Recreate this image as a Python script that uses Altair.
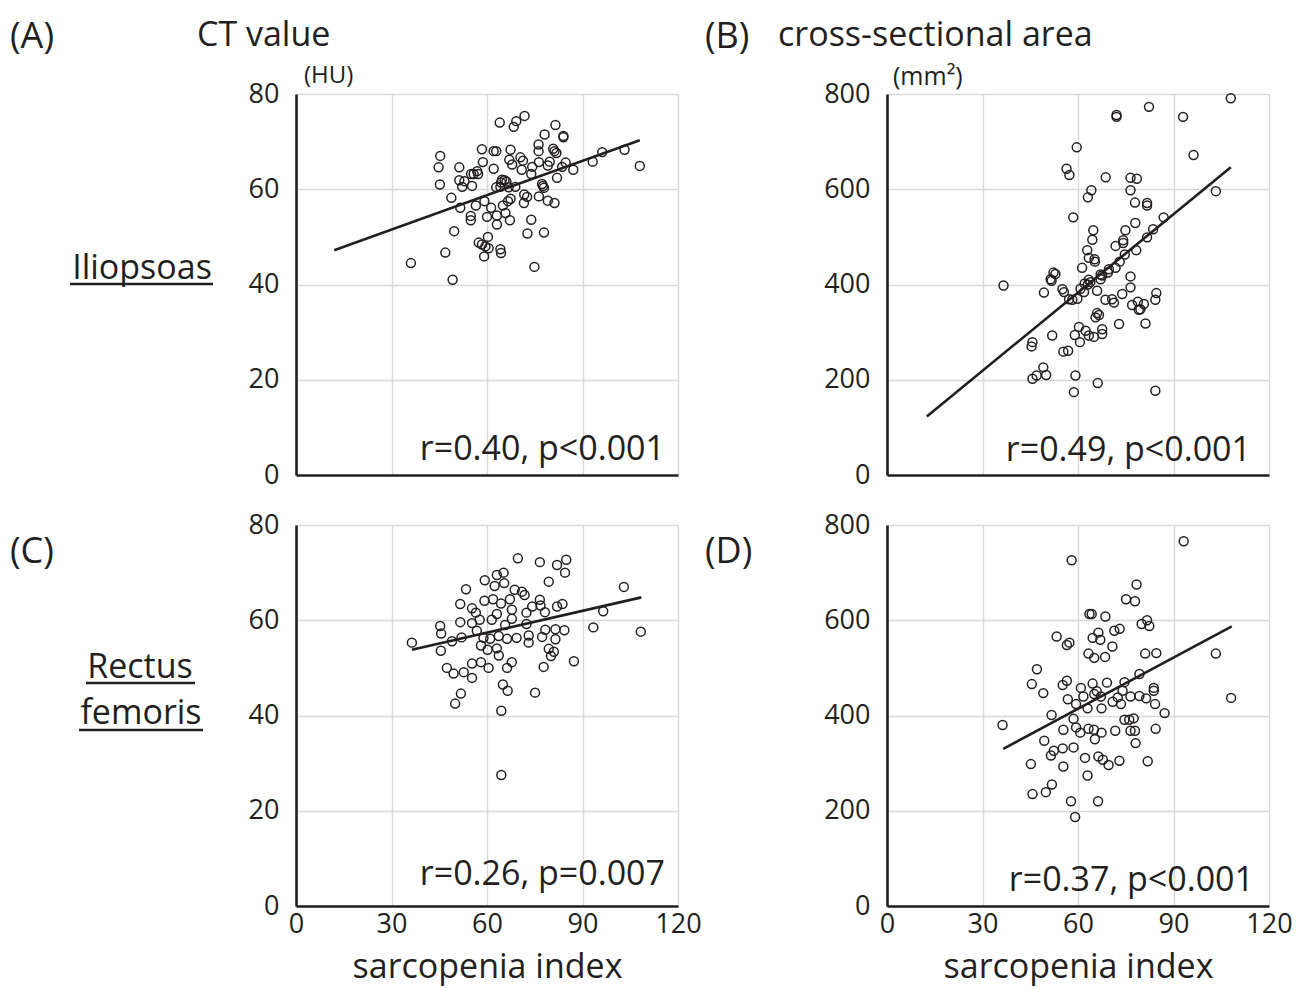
import altair as alt
import pandas as pd

FONT = "Open Sans"
INK = "#231f20"

# ---------------- data ----------------
# (A) Iliopsoas CT value (HU)
a_x = [64.0, 69.2, 68.4, 71.8, 81.5, 78.1, 84.0, 84.0, 45.3, 44.8, 45.2, 51.3, 58.4, 62.1, 62.9, 67.4,
       76.2, 76.2, 80.8, 81.2, 81.8, 70.5, 71.3, 67.0, 58.7, 67.9, 76.3, 79.7, 79.1, 84.7, 83.6, 87.1,
       93.2, 96.2, 103.2, 108.0, 74.2, 73.9, 70.9, 62.1, 56.9, 55.8, 57.2, 55.0, 51.3, 52.9, 52.2, 55.3,
       64.7, 65.5, 66.1, 64.4, 62.9, 64.2, 66.8, 68.9, 77.3, 77.9, 77.6, 82.0, 48.8, 51.6, 56.5, 59.2,
       61.3, 65.0, 66.6, 67.4, 65.8, 63.1, 54.9, 54.9, 60.0, 67.2, 71.7, 72.6, 71.6, 76.3, 79.1, 81.2,
       73.9, 63.1, 49.7, 72.7, 77.9, 60.3, 57.4, 58.4, 59.5, 60.5, 64.2, 64.4, 59.1, 46.9, 36.1, 74.9, 49.2]
a_y = [74.0, 74.3, 73.1, 75.4, 73.5, 71.5, 71.2, 70.9, 67.0, 64.6, 61.0, 64.6, 68.4, 68.0, 68.0, 68.3,
       69.4, 68.0, 68.5, 68.0, 67.6, 66.7, 66.0, 66.2, 65.7, 65.2, 65.7, 65.8, 65.0, 65.6, 64.7, 64.1,
       65.8, 67.8, 68.3, 64.9, 64.7, 63.2, 64.1, 64.3, 63.8, 63.2, 63.2, 63.2, 61.9, 61.7, 60.5, 60.7,
       62.0, 61.9, 61.6, 61.4, 60.4, 60.5, 60.4, 60.5, 61.1, 60.3, 60.7, 62.4, 58.2, 56.1, 56.6, 57.5,
       56.1, 56.6, 57.5, 58.0, 55.0, 54.5, 54.4, 53.5, 54.2, 53.5, 58.9, 58.4, 57.1, 58.5, 57.6, 57.1,
       53.6, 52.6, 51.2, 50.7, 50.9, 50.0, 48.8, 48.4, 48.0, 47.6, 47.4, 46.6, 45.9, 46.7, 44.5, 43.7, 41.0]
a_line_x = [12.0, 108.0]
a_line_y = [47.2, 70.3]

# (B) Iliopsoas cross-sectional area (mm2)
b_x = [108.0, 82.3, 72.1, 72.1, 93.0, 59.6, 96.3, 56.4, 57.3, 68.7, 76.5, 78.5, 64.2, 63.1, 76.5, 103.3,
       77.9, 81.7, 81.7, 58.5, 86.9, 78.0, 74.9, 83.6, 64.8, 64.5, 74.2, 74.2, 81.7, 71.8, 62.9, 78.3,
       63.4, 65.2, 65.3, 74.7, 61.3, 73.1, 71.8, 69.7, 69.4, 67.1, 67.6, 67.1, 63.4, 63.9, 62.1, 76.5,
       52.3, 52.9, 51.4, 51.7, 36.6, 49.3, 55.1, 55.6, 57.2, 58.2, 59.8, 60.8, 61.9, 63.1, 66.0, 68.6,
       70.7, 71.3, 73.9, 76.5, 77.0, 78.8, 79.6, 80.7, 79.1, 84.6, 84.3, 66.0, 66.6, 65.5, 72.9, 81.2,
       60.3, 62.4, 63.4, 65.0, 67.6, 67.6, 59.0, 60.6, 51.9, 45.7, 45.4, 55.4, 56.9, 49.1, 47.0, 45.7,
       50.0, 59.2, 66.2, 58.7, 84.3]
b_y = [791, 773, 756, 752, 752, 688, 672, 643, 630, 625, 624, 622, 598, 583, 598, 596,
       572, 571, 566, 541, 541, 529, 514, 516, 514, 494, 493, 487, 499, 481, 472, 472,
       456, 453, 448, 463, 435, 448, 435, 432, 425, 421, 419, 411, 410, 405, 402, 417,
       425, 422, 411, 408, 398, 383, 390, 384, 369, 368, 370, 391, 384, 400, 387, 368,
       369, 362, 380, 394, 357, 364, 348, 359, 347, 382, 368, 340, 336, 331, 317, 318,
       311, 303, 293, 290, 306, 296, 294, 279, 293, 279, 270, 259, 261, 226, 209, 202,
       210, 209, 193, 174, 177]
b_line_x = [12.5, 108.0]
b_line_y = [123, 646]

# (C) Rectus femoris CT value (HU)
c_x = [69.7, 76.6, 82.0, 84.9, 84.5, 65.2, 63.1, 65.4, 62.4, 59.3, 79.4, 53.4, 68.7, 71.0, 71.8, 59.2,
       61.9, 64.4, 67.2, 51.6, 55.3, 56.5, 57.7, 74.2, 76.6, 76.8, 78.2, 82.0, 83.7, 67.8, 67.8, 63.1,
       61.5, 65.7, 72.4, 72.4, 103.0, 96.5, 45.3, 45.6, 51.6, 55.3, 56.8, 36.4, 49.0, 52.0, 45.5, 58.9,
       61.0, 63.7, 66.3, 69.3, 73.1, 73.1, 58.1, 60.2, 63.1, 63.7, 77.3, 81.5, 81.5, 84.3, 78.3, 79.4,
       81.0, 80.1, 93.4, 108.3, 87.3, 77.8, 67.8, 66.3, 60.5, 58.1, 55.3, 47.4, 49.5, 52.7, 55.3, 65.0,
       66.5, 75.1, 51.8, 50.0, 64.5, 64.5]
c_y = [73.0, 72.2, 71.6, 72.7, 70.0, 70.0, 69.5, 67.8, 67.2, 68.4, 68.1, 66.5, 66.4, 66.0, 65.3, 64.1,
       64.4, 63.5, 64.4, 63.4, 62.5, 61.6, 60.1, 62.9, 64.3, 63.1, 61.7, 62.9, 63.4, 62.2, 60.3, 61.3,
       60.1, 59.0, 61.6, 59.2, 67.0, 61.9, 58.8, 57.2, 59.6, 59.4, 57.8, 55.3, 55.6, 56.4, 53.6, 56.3,
       56.1, 56.7, 56.1, 56.3, 56.8, 55.3, 54.7, 53.8, 54.1, 52.6, 56.5, 58.1, 56.0, 57.9, 58.0, 54.0,
       53.4, 52.5, 58.5, 57.6, 51.4, 50.2, 51.2, 50.0, 50.0, 51.2, 50.9, 50.0, 48.8, 49.1, 47.9, 46.5,
       45.2, 44.8, 44.6, 42.5, 41.0, 27.5]
c_line_x = [36.4, 108.5]
c_line_y = [53.8, 64.8]

# (D) Rectus femoris cross-sectional area (mm2)
d_x = [93.2, 58.0, 78.4, 75.1, 77.9, 63.6, 64.3, 68.6, 80.0, 81.7, 82.4, 71.4, 73.1, 66.4, 64.6, 67.0,
       53.3, 56.5, 57.3, 70.8, 63.3, 65.1, 68.5, 81.1, 84.6, 103.3, 47.1, 45.5, 49.1, 56.5, 55.2, 79.3,
       64.6, 69.1, 60.9, 65.9, 74.6, 83.8, 108.1, 56.8, 59.4, 61.7, 63.0, 67.4, 65.1, 67.2, 70.9, 73.5,
       72.5, 76.5, 79.3, 81.4, 84.2, 87.2, 83.8, 74.0, 51.7, 36.3, 58.6, 59.4, 60.7, 63.3, 65.0, 67.4,
       65.3, 71.7, 74.6, 76.1, 77.5, 76.5, 77.9, 84.4, 78.1, 55.4, 49.4, 52.4, 51.5, 55.2, 58.6, 62.2,
       66.4, 67.8, 69.6, 73.0, 81.9, 45.2, 55.4, 63.0, 51.8, 49.9, 45.7, 57.8, 66.3, 59.1]
d_y = [766, 726, 675, 644, 640, 613, 613, 608, 592, 600, 588, 578, 582, 574, 563, 559,
       566, 548, 553, 545, 530, 521, 523, 530, 531, 530, 497, 466, 447, 473, 464, 487,
       467, 469, 458, 451, 470, 458, 437, 434, 424, 440, 415, 415, 445, 440, 429, 424,
       438, 440, 441, 436, 424, 405, 452, 452, 401, 380, 393, 375, 364, 372, 370, 364,
       350, 368, 391, 391, 394, 368, 368, 372, 342, 370, 347, 326, 316, 331, 333, 311,
       314, 307, 296, 305, 304, 298, 293, 274, 255, 239, 235, 220, 220, 187]
d_line_x = [36.5, 108.3]
d_line_y = [330, 587]

x_ticks = [0, 30, 60, 90, 120]
hu_ticks = [0, 20, 40, 60, 80]
area_ticks = [0, 200, 400, 600, 800]
r_texts = ["r=0.40, p<0.001", "r=0.49, p<0.001", "r=0.26, p=0.007", "r=0.37, p<0.001"]

W, H = 382, 381


def txt(s, x, y, size, align="left"):
    return alt.Chart(pd.DataFrame({"t": [s]})).mark_text(
        align=align, baseline="alphabetic", font=FONT, fontSize=size, color=INK
    ).encode(text="t:N", x=alt.value(x), y=alt.value(y))


def uline(x1, x2, y):
    return alt.Chart(pd.DataFrame({"t": [0]})).mark_rule(color=INK, strokeWidth=2.6).encode(
        x=alt.value(x1), x2=alt.value(x2), y=alt.value(y)
    )


def panel(xs, ys, lx, ly, ymax, yvals, show_x, extra):
    df = pd.DataFrame({"x": xs, "y": ys})
    dl = pd.DataFrame({"x": lx, "y": ly})
    if show_x:
        xax = alt.Axis(values=x_ticks, title="sarcopenia index", labelFlush=False)
    else:
        xax = alt.Axis(values=x_ticks, title=None, labels=False, labelFlush=False)
    xenc = alt.X("x:Q", scale=alt.Scale(domain=[0, 120], nice=False), axis=xax)
    yenc = alt.Y("y:Q", scale=alt.Scale(domain=[0, ymax], nice=False),
                 axis=alt.Axis(values=yvals, title=None, labelFlush=False))
    pts = alt.Chart(df).mark_point(shape="circle", size=80, filled=False, strokeWidth=1.5,
                                   color=INK, opacity=1).encode(x=xenc, y=yenc)
    line = alt.Chart(dl).mark_line(color=INK, strokeWidth=2.6).encode(x="x:Q", y="y:Q")
    return alt.layer(pts, line, *extra).properties(width=W, height=H)


pA = panel(a_x, a_y, a_line_x, a_line_y, 80, hu_ticks, False, [
    txt("(A)", -286, -46, 36),
    txt("CT value", -99, -48, 34),
    txt("(HU)", 8, -11, 24),
    txt("Iliopsoas", -154, 185, 34, "center"),
    uline(-226, -83, 190),
    txt(r_texts[0], 369, 366, 34, "right"),
])
pB = panel(b_x, b_y, b_line_x, b_line_y, 800, area_ticks, False, [
    txt("(B)", -182, -46, 36),
    txt("cross-sectional area", -109, -48, 34),
    txt("(mm²)", 6, -9, 25),
    txt(r_texts[1], 364, 367, 34, "right"),
])
pC = panel(c_x, c_y, c_line_x, c_line_y, 80, hu_ticks, True, [
    txt("(C)", -286, 38, 36),
    txt("Rectus", -156, 153, 34, "center"),
    uline(-210, -101, 158),
    txt("femoris", -155, 199, 34, "center"),
    uline(-217, -93, 205),
    txt(r_texts[2], 369, 360, 34, "right"),
])
pD = panel(d_x, d_y, d_line_x, d_line_y, 800, area_ticks, True, [
    txt("(D)", -182, 38, 36),
    txt(r_texts[3], 367, 366, 34, "right"),
])

chart = alt.concat(pA, pB, pC, pD, columns=2, spacing={"row": 50, "column": 209},
                   bounds="flush").properties(
    padding={"left": 2, "top": 11, "right": 2, "bottom": 10}
).configure_view(stroke=None).configure_axis(
    domainColor=INK, domainWidth=2.6, gridColor="#d9d9d9", gridWidth=1.4,
    labelFont=FONT, labelFontSize=27, labelColor=INK, ticks=False,
    titleFont=FONT, titleFontSize=34, titleColor=INK, titleFontWeight="normal",
).configure_axisX(labelPadding=5, titlePadding=13).configure_axisY(labelPadding=17)

chart.save("out.html", embed_options={"renderer": "svg", "actions": False})
